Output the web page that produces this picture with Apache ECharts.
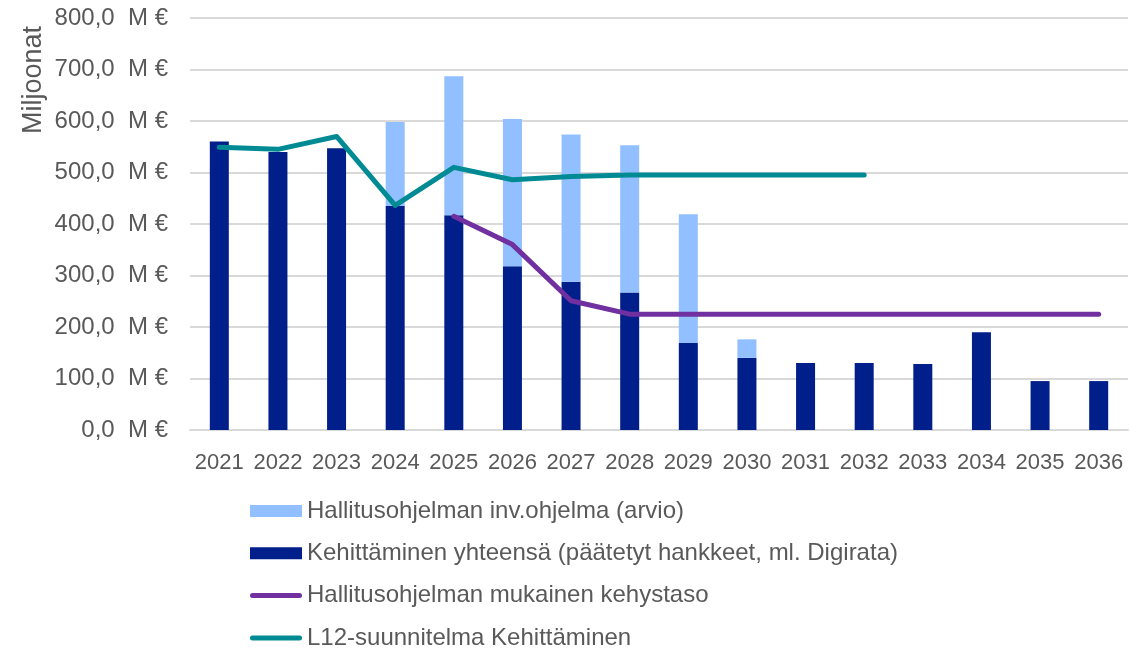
<!DOCTYPE html>
<html>
<head>
<meta charset="utf-8">
<script src="https://cdn.jsdelivr.net/npm/echarts@6/dist/echarts.min.js"></script>
<style>
html,body{margin:0;padding:0;background:#fff;}
#chart{width:1130px;height:648px;}
</style>
</head>
<body>
<div id="chart"></div>
<script>
const years = ['2021','2022','2023','2024','2025','2026','2027','2028','2029','2030','2031','2032','2033','2034','2035','2036'];
const kehittaminen = [560, 540, 547, 435, 417, 318, 288, 267, 169, 140, 130, 130, 128, 190, 95, 95];
const hallitusInv = [null, null, null, 163, 270, 286, 286, 286, 250, 36, null, null, null, null, null, null];
const kehystaso = [null, null, null, null, 415, 360, 251, 225, 225, 225, 225, 225, 225, 225, 225, 225];
const l12 = [549, 545, 570, 436, 510, 486, 492, 495, 495, 495, 495, 495, null, null, null, null];
const yTicks = [0, 100, 200, 300, 400, 500, 600, 700, 800];

const FONT = '"Liberation Sans", Arial, sans-serif';
const TXT = '#595959';
const LINE_ICON = 'path://M2.5,0 L49.5,0 A2.5,2.5 0 0 1 49.5,5 L2.5,5 A2.5,2.5 0 0 1 2.5,0 Z';

const chart = echarts.init(document.getElementById('chart'), null, {renderer: 'canvas'});
chart.setOption({
  animation: false,
  backgroundColor: '#ffffff',
  textStyle: {fontFamily: FONT},
  grid: {left: 190, right: 2, top: 18, bottom: 218, containLabel: false},
  graphic: [{
    type: 'text',
    left: 20, top: 26,
    rotation: Math.PI / 2,
    style: {text: 'Miljoonat', fill: TXT, font: '27px ' + FONT}
  }],
  legend: {
    orient: 'vertical',
    left: 250, top: 499, height: 160,
    padding: 0,
    itemWidth: 52, itemHeight: 12,
    itemGap: 18.3,
    textStyle: {color: TXT, fontSize: 24, fontFamily: FONT, lineHeight: 24},
    data: [
      {name: 'Hallitusohjelman inv.ohjelma (arvio)', icon: 'rect'},
      {name: 'Kehittäminen yhteensä (päätetyt hankkeet, ml. Digirata)', icon: 'rect'},
      {name: 'Hallitusohjelman mukainen kehystaso', icon: LINE_ICON},
      {name: 'L12-suunnitelma Kehittäminen', icon: LINE_ICON}
    ]
  },
  xAxis: {
    type: 'category',
    data: years,
    axisTick: {show: false},
    axisLine: {lineStyle: {color: '#d9d9d9', width: 2}},
    axisLabel: {color: TXT, fontSize: 22, margin: 22, interval: 0, fontFamily: FONT}
  },
  yAxis: {
    type: 'value',
    min: yTicks[0], max: yTicks[yTicks.length - 1], interval: 100,
    axisLine: {show: false},
    axisTick: {show: false},
    splitLine: {lineStyle: {color: '#d9d9d9', width: 2}},
    axisLabel: {
      color: TXT, fontSize: 24, margin: 22, fontFamily: FONT,
      formatter: v => v.toFixed(1).replace('.', ',') + '  M €'
    }
  },
  series: [
    {
      name: 'Kehittäminen yhteensä (päätetyt hankkeet, ml. Digirata)',
      type: 'bar', stack: 'total', barWidth: 19,
      itemStyle: {color: '#001f8b'},
      data: kehittaminen
    },
    {
      name: 'Hallitusohjelman inv.ohjelma (arvio)',
      type: 'bar', stack: 'total', barWidth: 19,
      itemStyle: {color: '#91bfff'},
      data: hallitusInv
    },
    {
      name: 'Hallitusohjelman mukainen kehystaso',
      type: 'line', symbol: 'none', showSymbol: false,
      lineStyle: {color: '#7030a0', width: 5, cap: 'round', join: 'round'},
      itemStyle: {color: '#7030a0'},
      data: kehystaso
    },
    {
      name: 'L12-suunnitelma Kehittäminen',
      type: 'line', symbol: 'none', showSymbol: false,
      lineStyle: {color: '#008b94', width: 5, cap: 'round', join: 'round'},
      itemStyle: {color: '#008b94'},
      data: l12
    }
  ]
});
</script>
</body>
</html>
